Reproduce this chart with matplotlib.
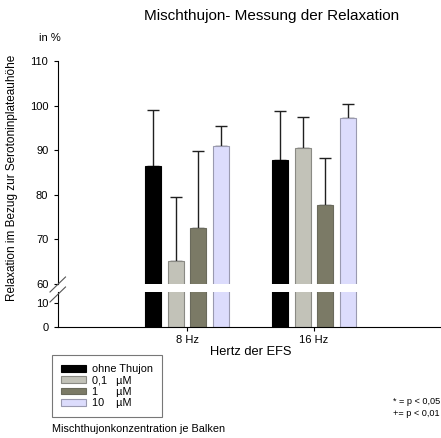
"""Mischthujon- Messung der Relaxation (broken y axis bar chart)."""

import matplotlib.pyplot as plt
import numpy as np

plt.rcParams["font.family"] = ["Liberation Sans", "DejaVu Sans"]

groups = ["8 Hz", "16 Hz"]
series = ["ohne Thujon", "0,1   µM", "1      µM", "10    µM"]
colors = ["#000000", "#c2c2b8", "#7b7a66", "#dcdcfc"]
edges = ["#000000", "#8a8a84", "#6a6a5c", "#9a9ab0"]

means = [
    [86.3, 87.8],   # ohne Thujon
    [65.1, 90.4],   # 0,1 µM
    [72.5, 77.6],   # 1 µM
    [90.9, 97.3],   # 10 µM
]
upper_err = [
    [12.6, 10.9],
    [14.3, 7.0],
    [17.3, 10.6],
    [4.6, 3.0],
]

W, H = 441, 438
fig = plt.figure(figsize=(W / 100, H / 100), dpi=100)

left, right = 58 / W, 441 / W
ax_top = fig.add_axes([left, 1 - 284 / H, right - left, (284 - 61) / H])
ax_bot = fig.add_axes([left, 1 - 327 / H, right - left, (327 - 292) / H])

x = np.arange(1, len(groups) + 1)
step = 0.178
width = 0.128

for ax in (ax_top, ax_bot):
    for i in range(len(series)):
        pos = x + (i - 1.5) * step
        ax.bar(pos, means[i], width, color=colors[i], edgecolor=edges[i],
               linewidth=0.8, label=series[i], zorder=2)
        if ax is ax_top:
            ax.errorbar(pos, means[i], yerr=[[0] * len(groups), upper_err[i]],
                        fmt="none", ecolor="#202020", elinewidth=1.0,
                        capsize=4, capthick=1.0, zorder=1)
    ax.set_xlim(-0.016, 3.0)
    ax.spines["top"].set_visible(False)
    ax.spines["right"].set_visible(False)
    ax.tick_params(axis="y", labelsize=8, length=3, width=0.8, pad=4)
    ax.set_facecolor("none")

ax_top.set_ylim(59.9, 110)
ax_top.set_yticks([60, 70, 80, 90, 100, 110])
ax_top.spines["bottom"].set_visible(False)
ax_top.tick_params(axis="x", bottom=False, labelbottom=False)

ax_bot.set_ylim(0, 14.5)
ax_bot.set_yticks([0, 10])
ax_bot.set_xticks(x)
ax_bot.set_xticklabels(groups, fontsize=8)
ax_bot.tick_params(axis="x", length=3, width=0.8, pad=3)

# break marks on y axis
for yy in (284.5, 294.5):
    fig.add_artist(plt.Line2D([50 / W, 65.5 / W],
                              [1 - (yy + 7.5) / H, 1 - (yy - 7.5) / H],
                              color="#555555", lw=0.8))

fig.text(272 / W, 1 - 16 / H, "Mischthujon- Messung der Relaxation",
         ha="center", va="center", fontsize=11)
fig.text(50 / W, 1 - 38 / H, "in %", ha="center", va="center", fontsize=8)
fig.text(12 / W, 1 - 178 / H, "Relaxation im Bezug zur Serotoninplateauhöhe",
         rotation=90, ha="center", va="center", fontsize=8.5)
fig.text(251 / W, 1 - 352 / H, "Hertz der EFS", ha="center", va="center",
         fontsize=9.3)

handles, labels = ax_bot.get_legend_handles_labels()
leg = fig.legend(handles, labels, loc="upper left",
                 bbox_to_anchor=(52 / W, 1 - 355 / H), fontsize=7.8,
                 frameon=True, fancybox=False, edgecolor="#555555",
                 handlelength=2.3, handleheight=0.55, handletextpad=0.55,
                 labelspacing=0.12, borderpad=0.85, borderaxespad=0)
leg.get_frame().set_linewidth(0.8)

fig.text(52 / W, 1 - 429 / H, "Mischthujonkonzentration je Balken",
         ha="left", va="center", fontsize=7.8)
fig.text(393 / W, 1 - 402 / H, "* = p < 0,05", ha="left", va="center",
         fontsize=6.6)
fig.text(393 / W, 1 - 413 / H, "+= p < 0,01", ha="left", va="center",
         fontsize=6.6)

fig.savefig("out.png", dpi=100)
plt.close(fig)
